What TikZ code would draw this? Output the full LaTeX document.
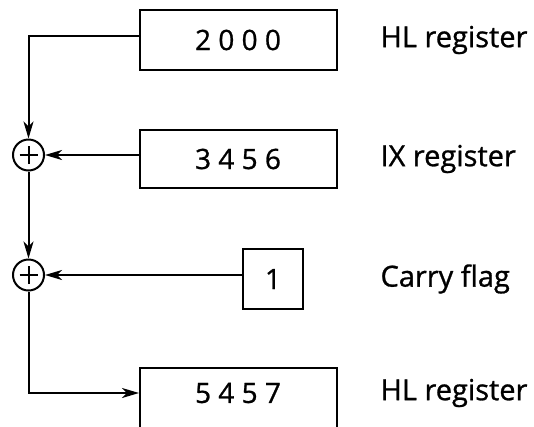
\documentclass[tikz,border=0pt]{standalone}
\usepackage{fontspec}
\setmainfont[FakeBold=0.9]{Open Sans}
\usetikzlibrary{arrows.meta}
\tikzset{
  reg/.style={draw, line width=2pt, rectangle, inner sep=0pt},
  lbl/.style={anchor=west, font=\fontsize{29}{33}\selectfont},
  num/.style={font=\fontsize{28}{33}\selectfont},
  adder/.style={draw, circle, line width=2pt, minimum size=31pt, inner sep=0pt,
    path picture={\draw[line width=2pt] ([xshift=-9pt]path picture bounding box.center) -- ([xshift=9pt]path picture bounding box.center);
      \draw[line width=2pt] ([yshift=-9pt]path picture bounding box.center) -- ([yshift=9pt]path picture bounding box.center);}},
  conn/.style={line width=2pt, -{Stealth[length=17pt,width=10pt,inset=5pt]}},
}
\begin{document}
\begin{tikzpicture}[x=1pt,y=-1pt]
\useasboundingbox (0,0) rectangle (534,426);
\clip (0,0) rectangle (534,426);
\node[reg, minimum width=197pt, minimum height=60pt] (b1) at (238.5,40) {};
\node[num] (t1) at (238,40) {2 0 0 0};
\node[reg, minimum width=197pt, minimum height=58pt] (b2) at (238.5,159) {};
\node[num] (t2) at (238,159) {3 4 5 6};
\node[reg, minimum width=60pt, minimum height=60pt] (b3) at (273,279) {};
\node[num] (t3) at (273,279) {1};
\node[reg, minimum width=197pt, minimum height=80pt] (b4) at (238.5,408) {};
\node[num] (t4) at (238,393) {5 4 5 7};
\node[lbl] (l1) at (377,40) {HL register};
\node[lbl] (l2) at (377,159) {IX register};
\node[lbl] (l3) at (377,279) {Carry flag};
\node[lbl] (l4) at (377,393) {HL register};
\node[adder] (c1) at (28.5,155) {};
\node[adder] (c2) at (28.5,275) {};
\coordinate (p1) at (140,36);
\draw[conn] (p1) -| (c1.north);
\draw[conn] (b2.west |- c1) -- (c1.east);
\draw[conn] (c1.south) -- (c2.north);
\draw[conn] (b3.west |- c2) -- (c2.east);
\draw[conn] (c2.south) |- (b4.west |- t4);
\end{tikzpicture}
\end{document}
